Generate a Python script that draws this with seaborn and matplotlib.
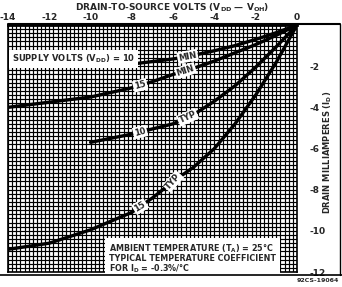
import numpy as np
import pandas as pd
import matplotlib
matplotlib.use("Agg")
import matplotlib.pyplot as plt
from matplotlib.ticker import MultipleLocator
from matplotlib.lines import Line2D
import seaborn as sns

sns.set_style("white")
plt.rcParams["font.family"] = ["DejaVu Sans"]
plt.rcParams["font.weight"] = "bold"
plt.rcParams["axes.unicode_minus"] = False
plt.rcParams["mathtext.fontset"] = "custom"
plt.rcParams["mathtext.rm"] = "DejaVu Sans:bold"
plt.rcParams["mathtext.bf"] = "DejaVu Sans:bold"
plt.rcParams["mathtext.default"] = "rm"

# drain-to-source volts
vds_10 = [-10, -8, -6, -5, -4, -3, -2, -1, 0]
vds_15 = [-14, -12, -10, -8, -7, -6, -5, -4, -3, -2, -1, 0]

# drain milliamperes
id_10_min = [-2.0, -1.9, -1.65, -1.47, -1.25, -1.0, -0.7, -0.37, 0]
id_10_typ = [-5.7, -5.3, -4.8, -4.35, -3.7, -2.95, -2.05, -1.05, 0]
id_15_min = [-4.0, -3.75, -3.5, -3.05, -2.75, -2.4, -2.1, -1.75, -1.35, -0.95, -0.5, 0]
id_15_typ = [-10.9, -10.6, -9.95, -9.1, -8.4, -7.6, -6.9, -6.0, -4.8, -3.4, -1.8, 0]

x_ticks = [-14, -12, -10, -8, -6, -4, -2, 0]
y_ticks = [-2, -4, -6, -8, -10, -12]

curves = pd.concat([
    pd.DataFrame({"vds": vds_10, "id": id_10_min, "curve": "10 MIN"}),
    pd.DataFrame({"vds": vds_15, "id": id_15_min, "curve": "15 MIN"}),
    pd.DataFrame({"vds": vds_10, "id": id_10_typ, "curve": "10 TYP"}),
    pd.DataFrame({"vds": vds_15, "id": id_15_typ, "curve": "15 TYP"}),
])

fig = plt.figure(figsize=(3.42, 2.87), dpi=100)
ax = fig.add_axes([8 / 342, 1 - 272 / 287, 289 / 342, 247 / 287])

# dense graph-paper grid
ax.xaxis.set_minor_locator(MultipleLocator(0.2))
ax.yaxis.set_minor_locator(MultipleLocator(0.2))
ax.set_xticks(x_ticks)
ax.set_yticks(y_ticks)
ax.grid(which="both", color="black", lw=0.85)
ax.set_axisbelow(True)

sns.lineplot(data=curves, x="vds", y="id", units="curve", estimator=None,
             color="black", lw=2.4, ax=ax, legend=False, sort=False)

ax.set_xlim(-14, 0)
ax.set_ylim(-12, 0)
ax.xaxis.tick_top()
ax.yaxis.tick_right()
ax.tick_params(which="both", length=0, labelsize=6.5, pad=2)
ax.tick_params(axis="y", pad=9)
ax.set_xlabel("")
ax.set_ylabel("")
for s in ax.spines.values():
    s.set_color("black")
    s.set_linewidth(1.2)
ax.spines["top"].set_linewidth(2)

box = dict(boxstyle="square,pad=0.15", fc="white", ec="none")


def tag(text, x, xs, ys, rot, fs=6):
    ax.text(x, np.interp(x, xs, ys), text, fontsize=fs, fontweight="bold",
            ha="center", va="center", rotation=rot, bbox=box, zorder=5)


tag("MIN", -5.3, vds_10, id_10_min, 11)
tag("15", -7.6, vds_15, id_15_min, 14)
tag("MIN", -5.4, vds_15, id_15_min, 18)
tag("10", -7.6, vds_10, id_10_typ, 14)
tag("TYP", -5.3, vds_10, id_10_typ, 24)
tag("15", -7.6, vds_15, id_15_typ, 32)
tag("TYP", -6.0, vds_15, id_15_typ, 48)

ax.text(-13.8, -1.65, "SUPPLY VOLTS (V$_{DD}$) = 10", fontsize=6, fontweight="bold",
        ha="left", va="center", bbox=dict(boxstyle="square,pad=0.35", fc="white", ec="none"),
        zorder=6)
ax.text(-9.1, -11.35,
        "AMBIENT TEMPERATURE (T$_A$) = 25\u00b0C\nTYPICAL TEMPERATURE COEFFICIENT\nFOR I$_D$ = -0.3%/\u00b0C",
        fontsize=5.8, fontweight="bold", ha="left", va="center", linespacing=0.95,
        bbox=dict(boxstyle="square,pad=0.5", fc="white", ec="none"), zorder=6)

fig.text(172 / 342, 1 - 8 / 287, "DRAIN-TO-SOURCE VOLTS (V$_{DD}$ \u2014 V$_{OH}$)",
         fontsize=6.5, fontweight="bold", ha="center", va="center")
fig.text(328 / 342, 1 - 152 / 287, "DRAIN MILLIAMPERES (I$_D$)", fontsize=6,
         fontweight="bold", rotation=90, ha="center", va="center")
fig.text(318 / 342, 1 - 281 / 287, "92CS-19064", fontsize=4.5, fontweight="bold",
         ha="center", va="center")

# outer frame of the datasheet figure
fig.add_artist(Line2D([8 / 342, 340 / 342], [1 - 24 / 287, 1 - 24 / 287], color="black", lw=1.5))
fig.add_artist(Line2D([0, 342 / 342], [1 - 275 / 287, 1 - 275 / 287], color="black", lw=1.2))
fig.add_artist(Line2D([340 / 342, 340 / 342], [1 - 24 / 287, 1 - 275 / 287], color="black", lw=1.0))

fig.savefig("out.png", dpi=100)
